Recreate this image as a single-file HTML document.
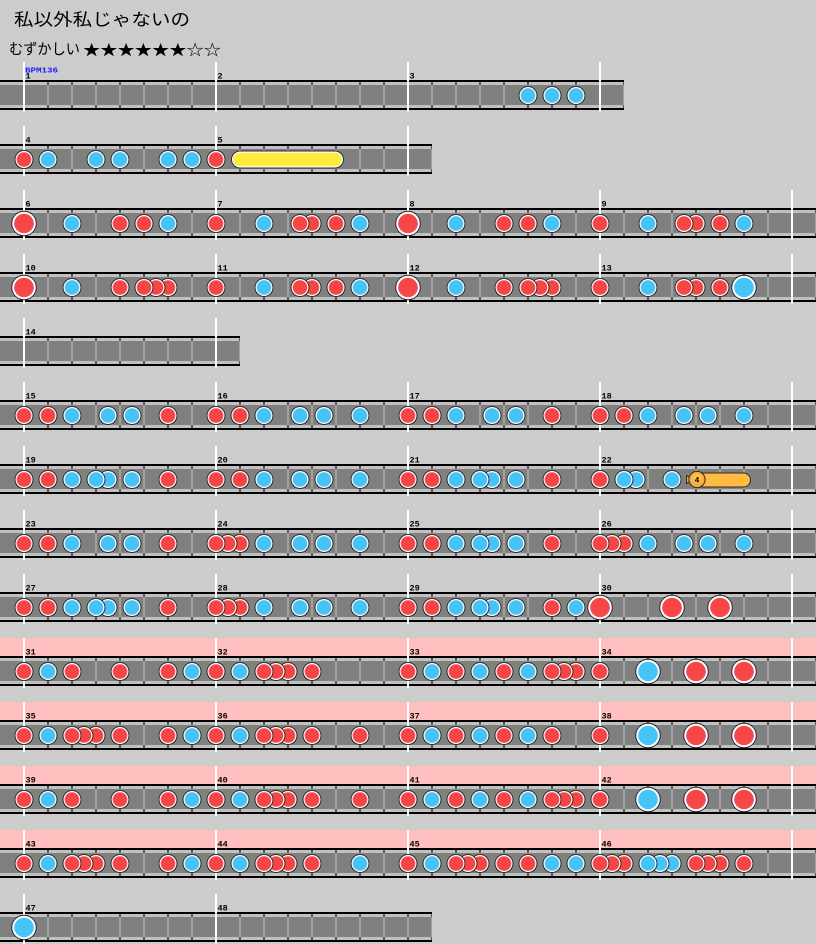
<!DOCTYPE html>
<html><head><meta charset="utf-8">
<style>
html,body{margin:0;padding:0;background:#cccccc;}
svg{display:block;}
.lb{font-family:"Liberation Mono",monospace;font-weight:bold;font-size:8.5px;fill:#000;}
</style></head>
<body>
<svg xmlns="http://www.w3.org/2000/svg" xmlns:xlink="http://www.w3.org/1999/xlink" width="816" height="944" viewBox="0 0 816 944">
<defs>
<pattern id="bl" patternUnits="userSpaceOnUse" x="23" y="0" width="24" height="30">
<rect x="0" y="2" width="2" height="3" fill="#585858"/>
<rect x="0" y="5" width="2" height="20" fill="#a0a0a0"/>
<rect x="0" y="25" width="2" height="3" fill="#585858"/>
</pattern>
<g id="d"><circle r="9.5" fill="#2b2b2b"/><circle r="8.5" fill="#fff"/><circle r="7.3" fill="#f64646"/></g>
<g id="k"><circle r="9.5" fill="#2b2b2b"/><circle r="8.5" fill="#fff"/><circle r="7.3" fill="#45c5f7"/></g>
<g id="D"><circle r="12.8" fill="#2b2b2b"/><circle r="11.8" fill="#fff"/><circle r="9.8" fill="#f64646"/></g>
<g id="K"><circle r="12.8" fill="#2b2b2b"/><circle r="11.8" fill="#fff"/><circle r="9.8" fill="#45c5f7"/></g>
</defs>
<rect width="816" height="944" fill="#cccccc"/>

<text x="14" y="25.5" textLength="176" lengthAdjust="spacingAndGlyphs" font-family="'Liberation Sans','Noto Sans CJK JP',sans-serif" font-size="17" fill="#000">私以外私じゃないの</text>
<text x="9" y="54" textLength="71" lengthAdjust="spacingAndGlyphs" font-family="'Liberation Sans','Noto Sans CJK JP',sans-serif" font-size="15" fill="#000">むずかしい</text>
<text x="83" y="55" textLength="138" lengthAdjust="spacingAndGlyphs" font-family="'Liberation Sans','Noto Sans CJK JP',sans-serif" font-size="15" fill="#000">★★★★★★☆☆</text>

<!-- Row 0 -->
<g transform="translate(0,80)">
<rect width="624" height="30" fill="#000"/><rect y="2" width="624" height="3" fill="#c0c0c0"/><rect y="5" width="624" height="20" fill="#808080"/><rect y="25" width="624" height="3" fill="#c0c0c0"/><rect x="30" width="594" height="30" fill="url(#bl)"/>
<rect x="23" y="-18" width="2" height="50" fill="#fff"/><rect x="215" y="-18" width="2" height="50" fill="#fff"/><rect x="407" y="-18" width="2" height="50" fill="#fff"/><rect x="599" y="-18" width="2" height="50" fill="#fff"/>
<text x="25" y="-7.5" textLength="33" lengthAdjust="spacingAndGlyphs" font-family="'Liberation Mono',monospace" font-weight="bold" font-size="7.5" fill="#1a1aff">BPM136</text>
<text class="lb" x="25.5" y="-1.5">1</text><text class="lb" x="217.5" y="-1.5">2</text><text class="lb" x="409.5" y="-1.5">3</text>
<use href="#k" x="576" y="15.5"/><use href="#k" x="552" y="15.5"/><use href="#k" x="528" y="15.5"/>
</g>

<!-- Row 1 -->
<g transform="translate(0,144)">
<rect width="432" height="30" fill="#000"/><rect y="2" width="432" height="3" fill="#c0c0c0"/><rect y="5" width="432" height="20" fill="#808080"/><rect y="25" width="432" height="3" fill="#c0c0c0"/><rect x="30" width="402" height="30" fill="url(#bl)"/>
<rect x="23" y="-18" width="2" height="50" fill="#fff"/><rect x="215" y="-18" width="2" height="50" fill="#fff"/><rect x="407" y="-18" width="2" height="50" fill="#fff"/>
<text class="lb" x="25.5" y="-1.5">4</text><text class="lb" x="217.5" y="-1.5">5</text>
<rect x="231" y="6.5" width="113" height="18" rx="9" fill="#2b2b2b"/><rect x="232" y="7.5" width="111" height="16" rx="8" fill="#fff"/><rect x="233.2" y="8.7" width="108.6" height="13.6" rx="6.8" fill="#ffeb3b"/>
<use href="#d" x="216" y="15.5"/><use href="#k" x="192" y="15.5"/><use href="#k" x="168" y="15.5"/><use href="#k" x="120" y="15.5"/><use href="#k" x="96" y="15.5"/><use href="#k" x="48" y="15.5"/><use href="#d" x="24" y="15.5"/>
</g>

<!-- Row 2 -->
<g transform="translate(0,208)">
<rect width="816" height="30" fill="#000"/><rect y="2" width="816" height="3" fill="#c0c0c0"/><rect y="5" width="816" height="20" fill="#808080"/><rect y="25" width="816" height="3" fill="#c0c0c0"/><rect x="30" width="786" height="30" fill="url(#bl)"/>
<rect x="23" y="-18" width="2" height="50" fill="#fff"/><rect x="215" y="-18" width="2" height="50" fill="#fff"/><rect x="407" y="-18" width="2" height="50" fill="#fff"/><rect x="599" y="-18" width="2" height="50" fill="#fff"/><rect x="791" y="-18" width="2" height="50" fill="#fff"/>
<text class="lb" x="25.5" y="-1.5">6</text><text class="lb" x="217.5" y="-1.5">7</text><text class="lb" x="409.5" y="-1.5">8</text><text class="lb" x="601.5" y="-1.5">9</text>
<use href="#k" x="744" y="15.5"/><use href="#d" x="720" y="15.5"/><use href="#d" x="696" y="15.5"/><use href="#d" x="684" y="15.5"/><use href="#k" x="648" y="15.5"/><use href="#d" x="600" y="15.5"/><use href="#k" x="552" y="15.5"/><use href="#d" x="528" y="15.5"/><use href="#d" x="504" y="15.5"/><use href="#k" x="456" y="15.5"/><use href="#D" x="408" y="15.5"/><use href="#k" x="360" y="15.5"/><use href="#d" x="336" y="15.5"/><use href="#d" x="312" y="15.5"/><use href="#d" x="300" y="15.5"/><use href="#k" x="264" y="15.5"/><use href="#d" x="216" y="15.5"/><use href="#k" x="168" y="15.5"/><use href="#d" x="144" y="15.5"/><use href="#d" x="120" y="15.5"/><use href="#k" x="72" y="15.5"/><use href="#D" x="24" y="15.5"/>
</g>

<!-- Row 3 -->
<g transform="translate(0,272)">
<rect width="816" height="30" fill="#000"/><rect y="2" width="816" height="3" fill="#c0c0c0"/><rect y="5" width="816" height="20" fill="#808080"/><rect y="25" width="816" height="3" fill="#c0c0c0"/><rect x="30" width="786" height="30" fill="url(#bl)"/>
<rect x="23" y="-18" width="2" height="50" fill="#fff"/><rect x="215" y="-18" width="2" height="50" fill="#fff"/><rect x="407" y="-18" width="2" height="50" fill="#fff"/><rect x="599" y="-18" width="2" height="50" fill="#fff"/><rect x="791" y="-18" width="2" height="50" fill="#fff"/>
<text class="lb" x="25.5" y="-1.5">10</text><text class="lb" x="217.5" y="-1.5">11</text><text class="lb" x="409.5" y="-1.5">12</text><text class="lb" x="601.5" y="-1.5">13</text>
<use href="#K" x="744" y="15.5"/><use href="#d" x="720" y="15.5"/><use href="#d" x="696" y="15.5"/><use href="#d" x="684" y="15.5"/><use href="#k" x="648" y="15.5"/><use href="#d" x="600" y="15.5"/><use href="#d" x="552" y="15.5"/><use href="#d" x="540" y="15.5"/><use href="#d" x="528" y="15.5"/><use href="#d" x="504" y="15.5"/><use href="#k" x="456" y="15.5"/><use href="#D" x="408" y="15.5"/><use href="#k" x="360" y="15.5"/><use href="#d" x="336" y="15.5"/><use href="#d" x="312" y="15.5"/><use href="#d" x="300" y="15.5"/><use href="#k" x="264" y="15.5"/><use href="#d" x="216" y="15.5"/><use href="#d" x="168" y="15.5"/><use href="#d" x="156" y="15.5"/><use href="#d" x="144" y="15.5"/><use href="#d" x="120" y="15.5"/><use href="#k" x="72" y="15.5"/><use href="#D" x="24" y="15.5"/>
</g>

<!-- Row 4 -->
<g transform="translate(0,336)">
<rect width="240" height="30" fill="#000"/><rect y="2" width="240" height="3" fill="#c0c0c0"/><rect y="5" width="240" height="20" fill="#808080"/><rect y="25" width="240" height="3" fill="#c0c0c0"/><rect x="30" width="210" height="30" fill="url(#bl)"/>
<rect x="23" y="-18" width="2" height="50" fill="#fff"/><rect x="215" y="-18" width="2" height="50" fill="#fff"/>
<text class="lb" x="25.5" y="-1.5">14</text>
</g>

<!-- Row 5 -->
<g transform="translate(0,400)">
<rect width="816" height="30" fill="#000"/><rect y="2" width="816" height="3" fill="#c0c0c0"/><rect y="5" width="816" height="20" fill="#808080"/><rect y="25" width="816" height="3" fill="#c0c0c0"/><rect x="30" width="786" height="30" fill="url(#bl)"/>
<rect x="23" y="-18" width="2" height="50" fill="#fff"/><rect x="215" y="-18" width="2" height="50" fill="#fff"/><rect x="407" y="-18" width="2" height="50" fill="#fff"/><rect x="599" y="-18" width="2" height="50" fill="#fff"/><rect x="791" y="-18" width="2" height="50" fill="#fff"/>
<text class="lb" x="25.5" y="-1.5">15</text><text class="lb" x="217.5" y="-1.5">16</text><text class="lb" x="409.5" y="-1.5">17</text><text class="lb" x="601.5" y="-1.5">18</text>
<use href="#k" x="744" y="15.5"/><use href="#k" x="708" y="15.5"/><use href="#k" x="684" y="15.5"/><use href="#k" x="648" y="15.5"/><use href="#d" x="624" y="15.5"/><use href="#d" x="600" y="15.5"/><use href="#d" x="552" y="15.5"/><use href="#k" x="516" y="15.5"/><use href="#k" x="492" y="15.5"/><use href="#k" x="456" y="15.5"/><use href="#d" x="432" y="15.5"/><use href="#d" x="408" y="15.5"/><use href="#k" x="360" y="15.5"/><use href="#k" x="324" y="15.5"/><use href="#k" x="300" y="15.5"/><use href="#k" x="264" y="15.5"/><use href="#d" x="240" y="15.5"/><use href="#d" x="216" y="15.5"/><use href="#d" x="168" y="15.5"/><use href="#k" x="132" y="15.5"/><use href="#k" x="108" y="15.5"/><use href="#k" x="72" y="15.5"/><use href="#d" x="48" y="15.5"/><use href="#d" x="24" y="15.5"/>
</g>

<!-- Row 6 -->
<g transform="translate(0,464)">
<rect width="816" height="30" fill="#000"/><rect y="2" width="816" height="3" fill="#c0c0c0"/><rect y="5" width="816" height="20" fill="#808080"/><rect y="25" width="816" height="3" fill="#c0c0c0"/><rect x="30" width="786" height="30" fill="url(#bl)"/>
<rect x="23" y="-18" width="2" height="50" fill="#fff"/><rect x="215" y="-18" width="2" height="50" fill="#fff"/><rect x="407" y="-18" width="2" height="50" fill="#fff"/><rect x="599" y="-18" width="2" height="50" fill="#fff"/><rect x="791" y="-18" width="2" height="50" fill="#fff"/>
<text class="lb" x="25.5" y="-1.5">19</text><text class="lb" x="217.5" y="-1.5">20</text><text class="lb" x="409.5" y="-1.5">21</text><text class="lb" x="601.5" y="-1.5">22</text>
<rect x="692" y="8.5" width="59" height="15" rx="7.5" fill="#2b2b2b"/><rect x="693" y="9.5" width="57" height="13" rx="6.5" fill="#ffbb44"/>
<path d="M686.5,11.5 L693,15.5 L686.5,19.5 Z" fill="#f5a830" stroke="#2b2b2b" stroke-width="1"/>
<circle cx="697" cy="15.5" r="8.6" fill="#2b2b2b"/><circle cx="697" cy="15.5" r="7.6" fill="#f8ac30"/><circle cx="697" cy="14.5" r="5" fill="#fcc050"/>
<text x="697" y="18.5" text-anchor="middle" font-family="'Liberation Mono',monospace" font-weight="bold" font-size="8" fill="#000">4</text>
<use href="#k" x="672" y="15.5"/><use href="#k" x="636" y="15.5"/><use href="#k" x="624" y="15.5"/><use href="#d" x="600" y="15.5"/><use href="#d" x="552" y="15.5"/><use href="#k" x="516" y="15.5"/><use href="#k" x="492" y="15.5"/><use href="#k" x="480" y="15.5"/><use href="#k" x="456" y="15.5"/><use href="#d" x="432" y="15.5"/><use href="#d" x="408" y="15.5"/><use href="#k" x="360" y="15.5"/><use href="#k" x="324" y="15.5"/><use href="#k" x="300" y="15.5"/><use href="#k" x="264" y="15.5"/><use href="#d" x="240" y="15.5"/><use href="#d" x="216" y="15.5"/><use href="#d" x="168" y="15.5"/><use href="#k" x="132" y="15.5"/><use href="#k" x="108" y="15.5"/><use href="#k" x="96" y="15.5"/><use href="#k" x="72" y="15.5"/><use href="#d" x="48" y="15.5"/><use href="#d" x="24" y="15.5"/>
</g>

<!-- Row 7 -->
<g transform="translate(0,528)">
<rect width="816" height="30" fill="#000"/><rect y="2" width="816" height="3" fill="#c0c0c0"/><rect y="5" width="816" height="20" fill="#808080"/><rect y="25" width="816" height="3" fill="#c0c0c0"/><rect x="30" width="786" height="30" fill="url(#bl)"/>
<rect x="23" y="-18" width="2" height="50" fill="#fff"/><rect x="215" y="-18" width="2" height="50" fill="#fff"/><rect x="407" y="-18" width="2" height="50" fill="#fff"/><rect x="599" y="-18" width="2" height="50" fill="#fff"/><rect x="791" y="-18" width="2" height="50" fill="#fff"/>
<text class="lb" x="25.5" y="-1.5">23</text><text class="lb" x="217.5" y="-1.5">24</text><text class="lb" x="409.5" y="-1.5">25</text><text class="lb" x="601.5" y="-1.5">26</text>
<use href="#k" x="744" y="15.5"/><use href="#k" x="708" y="15.5"/><use href="#k" x="684" y="15.5"/><use href="#k" x="648" y="15.5"/><use href="#d" x="624" y="15.5"/><use href="#d" x="612" y="15.5"/><use href="#d" x="600" y="15.5"/><use href="#d" x="552" y="15.5"/><use href="#k" x="516" y="15.5"/><use href="#k" x="492" y="15.5"/><use href="#k" x="480" y="15.5"/><use href="#k" x="456" y="15.5"/><use href="#d" x="432" y="15.5"/><use href="#d" x="408" y="15.5"/><use href="#k" x="360" y="15.5"/><use href="#k" x="324" y="15.5"/><use href="#k" x="300" y="15.5"/><use href="#k" x="264" y="15.5"/><use href="#d" x="240" y="15.5"/><use href="#d" x="228" y="15.5"/><use href="#d" x="216" y="15.5"/><use href="#d" x="168" y="15.5"/><use href="#k" x="132" y="15.5"/><use href="#k" x="108" y="15.5"/><use href="#k" x="72" y="15.5"/><use href="#d" x="48" y="15.5"/><use href="#d" x="24" y="15.5"/>
</g>

<!-- Row 8 -->
<g transform="translate(0,592)">
<rect width="816" height="30" fill="#000"/><rect y="2" width="816" height="3" fill="#c0c0c0"/><rect y="5" width="816" height="20" fill="#808080"/><rect y="25" width="816" height="3" fill="#c0c0c0"/><rect x="30" width="786" height="30" fill="url(#bl)"/>
<rect x="23" y="-18" width="2" height="50" fill="#fff"/><rect x="215" y="-18" width="2" height="50" fill="#fff"/><rect x="407" y="-18" width="2" height="50" fill="#fff"/><rect x="599" y="-18" width="2" height="50" fill="#fff"/><rect x="791" y="-18" width="2" height="50" fill="#fff"/>
<text class="lb" x="25.5" y="-1.5">27</text><text class="lb" x="217.5" y="-1.5">28</text><text class="lb" x="409.5" y="-1.5">29</text><text class="lb" x="601.5" y="-1.5">30</text>
<use href="#D" x="720" y="15.5"/><use href="#D" x="672" y="15.5"/><use href="#D" x="600" y="15.5"/><use href="#k" x="576" y="15.5"/><use href="#d" x="552" y="15.5"/><use href="#k" x="516" y="15.5"/><use href="#k" x="492" y="15.5"/><use href="#k" x="480" y="15.5"/><use href="#k" x="456" y="15.5"/><use href="#d" x="432" y="15.5"/><use href="#d" x="408" y="15.5"/><use href="#k" x="360" y="15.5"/><use href="#k" x="324" y="15.5"/><use href="#k" x="300" y="15.5"/><use href="#k" x="264" y="15.5"/><use href="#d" x="240" y="15.5"/><use href="#d" x="228" y="15.5"/><use href="#d" x="216" y="15.5"/><use href="#d" x="168" y="15.5"/><use href="#k" x="132" y="15.5"/><use href="#k" x="108" y="15.5"/><use href="#k" x="96" y="15.5"/><use href="#k" x="72" y="15.5"/><use href="#d" x="48" y="15.5"/><use href="#d" x="24" y="15.5"/>
</g>

<!-- Row 9 (gogo) -->
<g transform="translate(0,656)">
<rect y="-18" width="816" height="18" fill="#ffc0c0"/>
<rect width="816" height="30" fill="#000"/><rect y="2" width="816" height="3" fill="#c0c0c0"/><rect y="5" width="816" height="20" fill="#808080"/><rect y="25" width="816" height="3" fill="#c0c0c0"/><rect x="30" width="786" height="30" fill="url(#bl)"/>
<rect x="23" y="-18" width="2" height="50" fill="#fff"/><rect x="215" y="-18" width="2" height="50" fill="#fff"/><rect x="407" y="-18" width="2" height="50" fill="#fff"/><rect x="599" y="-18" width="2" height="50" fill="#fff"/><rect x="791" y="-18" width="2" height="50" fill="#fff"/>
<text class="lb" x="25.5" y="-1.5">31</text><text class="lb" x="217.5" y="-1.5">32</text><text class="lb" x="409.5" y="-1.5">33</text><text class="lb" x="601.5" y="-1.5">34</text>
<use href="#D" x="744" y="15.5"/><use href="#D" x="696" y="15.5"/><use href="#K" x="648" y="15.5"/><use href="#d" x="600" y="15.5"/><use href="#d" x="576" y="15.5"/><use href="#d" x="564" y="15.5"/><use href="#d" x="552" y="15.5"/><use href="#k" x="528" y="15.5"/><use href="#d" x="504" y="15.5"/><use href="#k" x="480" y="15.5"/><use href="#d" x="456" y="15.5"/><use href="#k" x="432" y="15.5"/><use href="#d" x="408" y="15.5"/><use href="#d" x="312" y="15.5"/><use href="#d" x="288" y="15.5"/><use href="#d" x="276" y="15.5"/><use href="#d" x="264" y="15.5"/><use href="#k" x="240" y="15.5"/><use href="#d" x="216" y="15.5"/><use href="#k" x="192" y="15.5"/><use href="#d" x="168" y="15.5"/><use href="#d" x="120" y="15.5"/><use href="#d" x="72" y="15.5"/><use href="#k" x="48" y="15.5"/><use href="#d" x="24" y="15.5"/>
</g>

<!-- Row 10 (gogo) -->
<g transform="translate(0,720)">
<rect y="-18" width="816" height="18" fill="#ffc0c0"/>
<rect width="816" height="30" fill="#000"/><rect y="2" width="816" height="3" fill="#c0c0c0"/><rect y="5" width="816" height="20" fill="#808080"/><rect y="25" width="816" height="3" fill="#c0c0c0"/><rect x="30" width="786" height="30" fill="url(#bl)"/>
<rect x="23" y="-18" width="2" height="50" fill="#fff"/><rect x="215" y="-18" width="2" height="50" fill="#fff"/><rect x="407" y="-18" width="2" height="50" fill="#fff"/><rect x="599" y="-18" width="2" height="50" fill="#fff"/><rect x="791" y="-18" width="2" height="50" fill="#fff"/>
<text class="lb" x="25.5" y="-1.5">35</text><text class="lb" x="217.5" y="-1.5">36</text><text class="lb" x="409.5" y="-1.5">37</text><text class="lb" x="601.5" y="-1.5">38</text>
<use href="#D" x="744" y="15.5"/><use href="#D" x="696" y="15.5"/><use href="#K" x="648" y="15.5"/><use href="#d" x="600" y="15.5"/><use href="#d" x="552" y="15.5"/><use href="#k" x="528" y="15.5"/><use href="#d" x="504" y="15.5"/><use href="#k" x="480" y="15.5"/><use href="#d" x="456" y="15.5"/><use href="#k" x="432" y="15.5"/><use href="#d" x="408" y="15.5"/><use href="#d" x="360" y="15.5"/><use href="#d" x="312" y="15.5"/><use href="#d" x="288" y="15.5"/><use href="#d" x="276" y="15.5"/><use href="#d" x="264" y="15.5"/><use href="#k" x="240" y="15.5"/><use href="#d" x="216" y="15.5"/><use href="#k" x="192" y="15.5"/><use href="#d" x="168" y="15.5"/><use href="#d" x="120" y="15.5"/><use href="#d" x="96" y="15.5"/><use href="#d" x="84" y="15.5"/><use href="#d" x="72" y="15.5"/><use href="#k" x="48" y="15.5"/><use href="#d" x="24" y="15.5"/>
</g>

<!-- Row 11 (gogo) -->
<g transform="translate(0,784)">
<rect y="-18" width="816" height="18" fill="#ffc0c0"/>
<rect width="816" height="30" fill="#000"/><rect y="2" width="816" height="3" fill="#c0c0c0"/><rect y="5" width="816" height="20" fill="#808080"/><rect y="25" width="816" height="3" fill="#c0c0c0"/><rect x="30" width="786" height="30" fill="url(#bl)"/>
<rect x="23" y="-18" width="2" height="50" fill="#fff"/><rect x="215" y="-18" width="2" height="50" fill="#fff"/><rect x="407" y="-18" width="2" height="50" fill="#fff"/><rect x="599" y="-18" width="2" height="50" fill="#fff"/><rect x="791" y="-18" width="2" height="50" fill="#fff"/>
<text class="lb" x="25.5" y="-1.5">39</text><text class="lb" x="217.5" y="-1.5">40</text><text class="lb" x="409.5" y="-1.5">41</text><text class="lb" x="601.5" y="-1.5">42</text>
<use href="#D" x="744" y="15.5"/><use href="#D" x="696" y="15.5"/><use href="#K" x="648" y="15.5"/><use href="#d" x="600" y="15.5"/><use href="#d" x="576" y="15.5"/><use href="#d" x="564" y="15.5"/><use href="#d" x="552" y="15.5"/><use href="#k" x="528" y="15.5"/><use href="#d" x="504" y="15.5"/><use href="#k" x="480" y="15.5"/><use href="#d" x="456" y="15.5"/><use href="#k" x="432" y="15.5"/><use href="#d" x="408" y="15.5"/><use href="#d" x="360" y="15.5"/><use href="#d" x="312" y="15.5"/><use href="#d" x="288" y="15.5"/><use href="#d" x="276" y="15.5"/><use href="#d" x="264" y="15.5"/><use href="#k" x="240" y="15.5"/><use href="#d" x="216" y="15.5"/><use href="#k" x="192" y="15.5"/><use href="#d" x="168" y="15.5"/><use href="#d" x="120" y="15.5"/><use href="#d" x="72" y="15.5"/><use href="#k" x="48" y="15.5"/><use href="#d" x="24" y="15.5"/>
</g>

<!-- Row 12 (gogo) -->
<g transform="translate(0,848)">
<rect y="-18" width="816" height="18" fill="#ffc0c0"/>
<rect width="816" height="30" fill="#000"/><rect y="2" width="816" height="3" fill="#c0c0c0"/><rect y="5" width="816" height="20" fill="#808080"/><rect y="25" width="816" height="3" fill="#c0c0c0"/><rect x="30" width="786" height="30" fill="url(#bl)"/>
<rect x="23" y="-18" width="2" height="50" fill="#fff"/><rect x="215" y="-18" width="2" height="50" fill="#fff"/><rect x="407" y="-18" width="2" height="50" fill="#fff"/><rect x="599" y="-18" width="2" height="50" fill="#fff"/><rect x="791" y="-18" width="2" height="50" fill="#fff"/>
<text class="lb" x="25.5" y="-1.5">43</text><text class="lb" x="217.5" y="-1.5">44</text><text class="lb" x="409.5" y="-1.5">45</text><text class="lb" x="601.5" y="-1.5">46</text>
<use href="#d" x="744" y="15.5"/><use href="#d" x="720" y="15.5"/><use href="#d" x="708" y="15.5"/><use href="#d" x="696" y="15.5"/><use href="#k" x="672" y="15.5"/><use href="#k" x="660" y="15.5"/><use href="#k" x="648" y="15.5"/><use href="#d" x="624" y="15.5"/><use href="#d" x="612" y="15.5"/><use href="#d" x="600" y="15.5"/><use href="#k" x="576" y="15.5"/><use href="#k" x="552" y="15.5"/><use href="#d" x="528" y="15.5"/><use href="#d" x="504" y="15.5"/><use href="#d" x="480" y="15.5"/><use href="#d" x="468" y="15.5"/><use href="#d" x="456" y="15.5"/><use href="#k" x="432" y="15.5"/><use href="#d" x="408" y="15.5"/><use href="#k" x="360" y="15.5"/><use href="#d" x="312" y="15.5"/><use href="#d" x="288" y="15.5"/><use href="#d" x="276" y="15.5"/><use href="#d" x="264" y="15.5"/><use href="#k" x="240" y="15.5"/><use href="#d" x="216" y="15.5"/><use href="#k" x="192" y="15.5"/><use href="#d" x="168" y="15.5"/><use href="#d" x="120" y="15.5"/><use href="#d" x="96" y="15.5"/><use href="#d" x="84" y="15.5"/><use href="#d" x="72" y="15.5"/><use href="#k" x="48" y="15.5"/><use href="#d" x="24" y="15.5"/>
</g>

<!-- Row 13 -->
<g transform="translate(0,912)">
<rect width="432" height="30" fill="#000"/><rect y="2" width="432" height="3" fill="#c0c0c0"/><rect y="5" width="432" height="20" fill="#808080"/><rect y="25" width="432" height="3" fill="#c0c0c0"/><rect x="30" width="402" height="30" fill="url(#bl)"/>
<rect x="23" y="-18" width="2" height="50" fill="#fff"/><rect x="215" y="-18" width="2" height="50" fill="#fff"/>
<text class="lb" x="25.5" y="-1.5">47</text><text class="lb" x="217.5" y="-1.5">48</text>
<use href="#K" x="24" y="15.5"/>
</g>
</svg>
</body></html>
